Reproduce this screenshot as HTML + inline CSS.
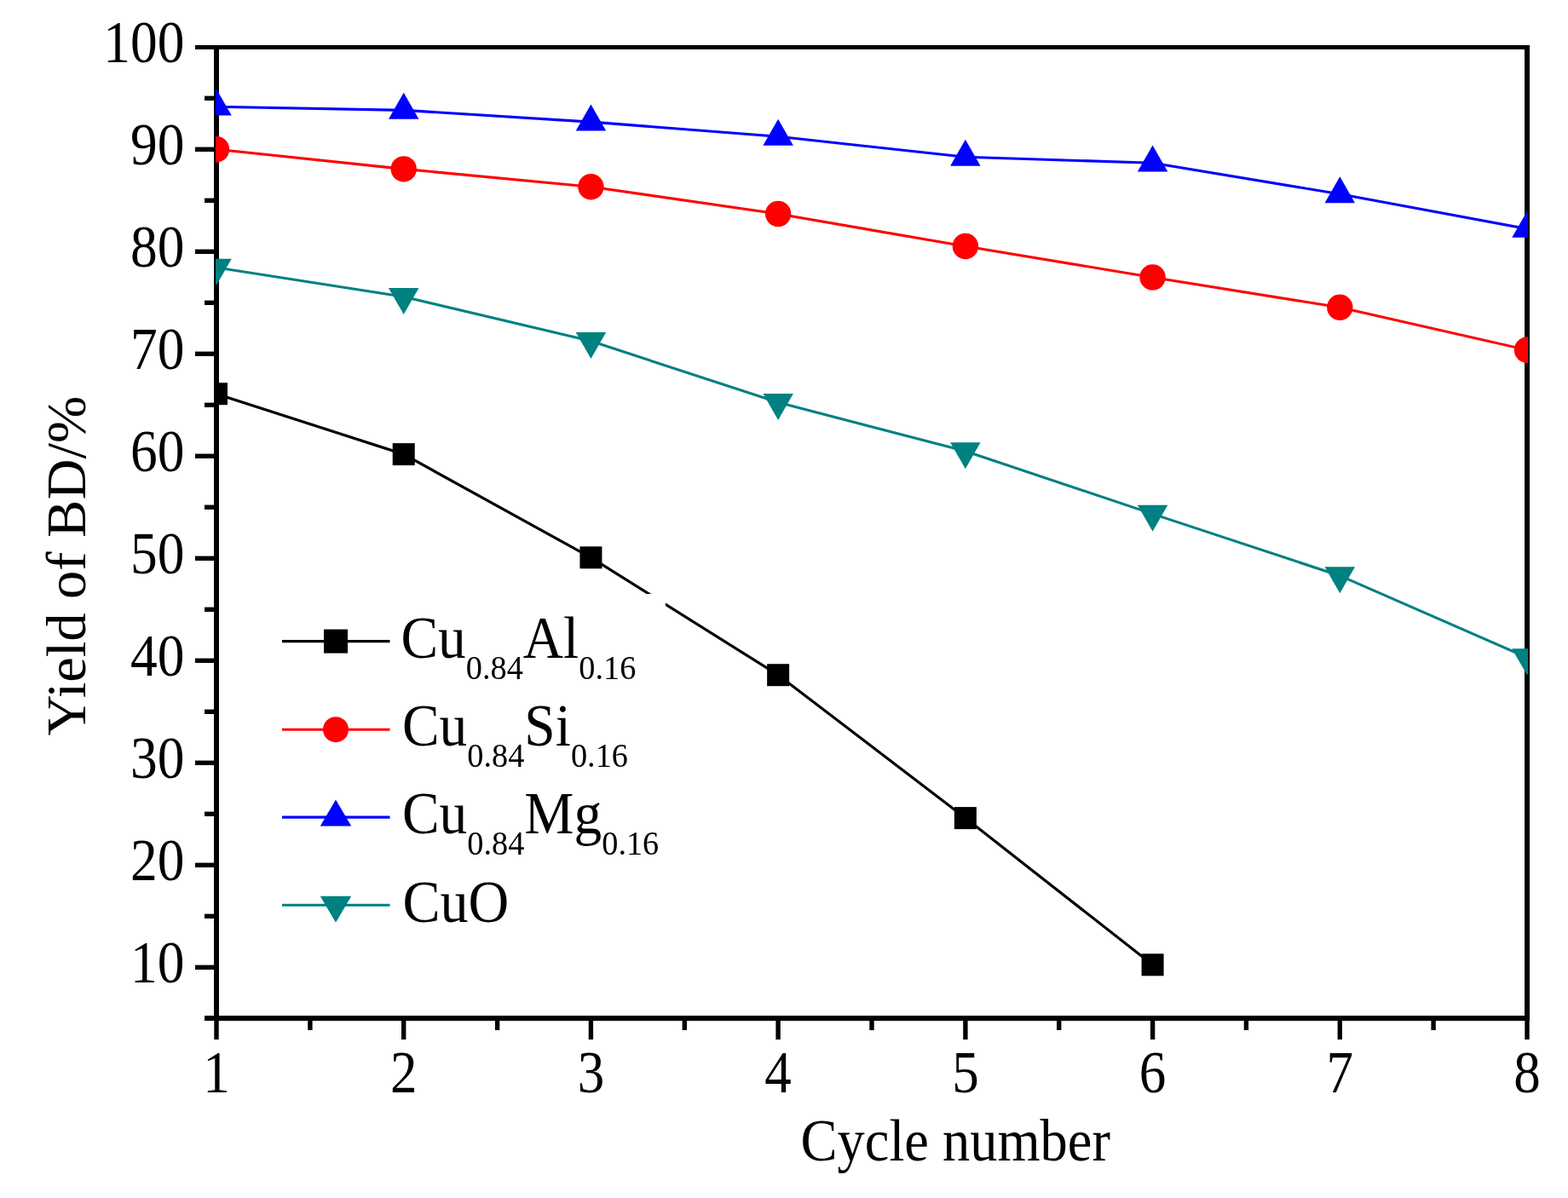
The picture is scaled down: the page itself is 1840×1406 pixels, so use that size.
<!DOCTYPE html>
<html><head><meta charset="utf-8"><title>Yield of BD vs Cycle number</title>
<style>
html,body{margin:0;padding:0;background:#fff;}
body{width:1840px;height:1406px;overflow:hidden;}
svg{display:block;}
text{font-family:"Liberation Serif","Times New Roman",serif;fill:#000;}
</style></head><body>
<svg width="1840" height="1406" viewBox="0 0 1840 1406">
<rect width="1840" height="1406" fill="#fff"/>
<defs><clipPath id="pc"><rect x="253" y="53" width="1540" height="1145"/></clipPath></defs>

<g fill="#000">
<rect x="251" y="53" width="6" height="1145"/>
<rect x="1789" y="53" width="6" height="1145"/>
<rect x="229" y="53" width="1566" height="5"/>
<rect x="240" y="1192" width="1555" height="6"/>
</g>
<g stroke="#000" stroke-width="5.4" stroke-linecap="butt">
<line x1="229" y1="1135.3" x2="254" y2="1135.3"/>
<line x1="229" y1="1015.3" x2="254" y2="1015.3"/>
<line x1="229" y1="895.3" x2="254" y2="895.3"/>
<line x1="229" y1="775.3" x2="254" y2="775.3"/>
<line x1="229" y1="655.3" x2="254" y2="655.3"/>
<line x1="229" y1="535.3" x2="254" y2="535.3"/>
<line x1="229" y1="415.3" x2="254" y2="415.3"/>
<line x1="229" y1="295.3" x2="254" y2="295.3"/>
<line x1="229" y1="175.3" x2="254" y2="175.3"/>
<line x1="240" y1="1195.3" x2="254" y2="1195.3"/>
<line x1="240" y1="1075.3" x2="254" y2="1075.3"/>
<line x1="240" y1="955.3" x2="254" y2="955.3"/>
<line x1="240" y1="835.3" x2="254" y2="835.3"/>
<line x1="240" y1="715.3" x2="254" y2="715.3"/>
<line x1="240" y1="595.3" x2="254" y2="595.3"/>
<line x1="240" y1="475.3" x2="254" y2="475.3"/>
<line x1="240" y1="355.3" x2="254" y2="355.3"/>
<line x1="240" y1="235.3" x2="254" y2="235.3"/>
<line x1="240" y1="115.3" x2="254" y2="115.3"/>
<line x1="254.0" y1="1195" x2="254.0" y2="1220"/>
<line x1="473.7" y1="1195" x2="473.7" y2="1220"/>
<line x1="693.4" y1="1195" x2="693.4" y2="1220"/>
<line x1="913.1" y1="1195" x2="913.1" y2="1220"/>
<line x1="1132.9" y1="1195" x2="1132.9" y2="1220"/>
<line x1="1352.6" y1="1195" x2="1352.6" y2="1220"/>
<line x1="1572.3" y1="1195" x2="1572.3" y2="1220"/>
<line x1="1792.0" y1="1195" x2="1792.0" y2="1220"/>
<line x1="363.9" y1="1195" x2="363.9" y2="1209"/>
<line x1="583.6" y1="1195" x2="583.6" y2="1209"/>
<line x1="803.3" y1="1195" x2="803.3" y2="1209"/>
<line x1="1023.0" y1="1195" x2="1023.0" y2="1209"/>
<line x1="1242.7" y1="1195" x2="1242.7" y2="1209"/>
<line x1="1462.4" y1="1195" x2="1462.4" y2="1209"/>
<line x1="1682.1" y1="1195" x2="1682.1" y2="1209"/>
</g>
<g clip-path="url(#pc)">
<polyline points="254.00,462.22 473.71,533.14 693.43,654.34 913.14,792.22 1132.86,960.10 1352.57,1132.30" fill="none" stroke="#000" stroke-width="3.2" stroke-linejoin="round"/><rect x="241.00" y="449.22" width="26" height="26" fill="#000"/><rect x="460.71" y="520.14" width="26" height="26" fill="#000"/><rect x="680.43" y="641.34" width="26" height="26" fill="#000"/><rect x="900.14" y="779.22" width="26" height="26" fill="#000"/><rect x="1119.86" y="947.10" width="26" height="26" fill="#000"/><rect x="1339.57" y="1119.30" width="26" height="26" fill="#000"/>
<polyline points="254.00,175.30 473.71,198.34 693.43,219.22 913.14,251.02 1132.86,289.06 1352.57,325.42 1572.29,360.82 1792.00,410.74" fill="none" stroke="#ff0000" stroke-width="3.1" stroke-linejoin="round"/><circle cx="254.00" cy="175.30" r="15.2" fill="#ff0000"/><circle cx="473.71" cy="198.34" r="15.2" fill="#ff0000"/><circle cx="693.43" cy="219.22" r="15.2" fill="#ff0000"/><circle cx="913.14" cy="251.02" r="15.2" fill="#ff0000"/><circle cx="1132.86" cy="289.06" r="15.2" fill="#ff0000"/><circle cx="1352.57" cy="325.42" r="15.2" fill="#ff0000"/><circle cx="1572.29" cy="360.82" r="15.2" fill="#ff0000"/><circle cx="1792.00" cy="410.74" r="15.2" fill="#ff0000"/>
<polyline points="254.00,125.26 473.71,129.34 693.43,143.14 913.14,160.30 1132.86,184.30 1352.57,191.26 1572.29,227.80 1792.00,268.54" fill="none" stroke="#0000ff" stroke-width="3.1" stroke-linejoin="round"/><polygon points="254.00,104.59 271.75,135.59 236.25,135.59" fill="#0000ff"/><polygon points="473.71,108.67 491.46,139.67 455.96,139.67" fill="#0000ff"/><polygon points="693.43,122.47 711.18,153.47 675.68,153.47" fill="#0000ff"/><polygon points="913.14,139.63 930.89,170.63 895.39,170.63" fill="#0000ff"/><polygon points="1132.86,163.63 1150.61,194.63 1115.11,194.63" fill="#0000ff"/><polygon points="1352.57,170.59 1370.32,201.59 1334.82,201.59" fill="#0000ff"/><polygon points="1572.29,207.13 1590.04,238.13 1554.54,238.13" fill="#0000ff"/><polygon points="1792.00,247.87 1809.75,278.87 1774.25,278.87" fill="#0000ff"/>
<polyline points="254.00,314.02 473.71,348.34 693.43,400.30 913.14,472.30 1132.86,529.54 1352.57,603.10 1572.29,675.70 1792.00,771.70" fill="none" stroke="#008080" stroke-width="3.1" stroke-linejoin="round"/><polygon points="254.00,334.69 271.75,303.69 236.25,303.69" fill="#008080"/><polygon points="473.71,369.01 491.46,338.01 455.96,338.01" fill="#008080"/><polygon points="693.43,420.97 711.18,389.97 675.68,389.97" fill="#008080"/><polygon points="913.14,492.97 930.89,461.97 895.39,461.97" fill="#008080"/><polygon points="1132.86,550.21 1150.61,519.21 1115.11,519.21" fill="#008080"/><polygon points="1352.57,623.77 1370.32,592.77 1334.82,592.77" fill="#008080"/><polygon points="1572.29,696.37 1590.04,665.37 1554.54,665.37" fill="#008080"/><polygon points="1792.00,792.37 1809.75,761.37 1774.25,761.37" fill="#008080"/>
</g>
<rect x="318" y="697" width="463" height="400" fill="#fff"/>
<line x1="331" y1="752.6" x2="457.5" y2="752.6" stroke="#000" stroke-width="3.2"/>
<rect x="380.00" y="738.60" width="28" height="28" fill="#000"/>
<text transform="translate(470.5,772.4) scale(0.9481,1)" font-size="69.0">Cu<tspan font-size="40.4" dy="25">0.84</tspan><tspan dy="-25">Al</tspan><tspan font-size="40.4" dy="25">0.16</tspan></text>
<line x1="331" y1="856.2" x2="457.5" y2="856.2" stroke="#ff0000" stroke-width="3.1"/>
<circle cx="394.00" cy="856.20" r="15.0" fill="#ff0000"/>
<text transform="translate(472.0,875.3) scale(0.9481,1)" font-size="69.0">Cu<tspan font-size="40.4" dy="25">0.84</tspan><tspan dy="-25">Si</tspan><tspan font-size="40.4" dy="25">0.16</tspan></text>
<line x1="331" y1="959.1" x2="457.5" y2="959.1" stroke="#0000ff" stroke-width="3.1"/>
<polygon points="394.00,938.43 412.25,969.43 375.75,969.43" fill="#0000ff"/>
<text transform="translate(472.0,977.6) scale(0.9481,1)" font-size="69.0">Cu<tspan font-size="40.4" dy="25">0.84</tspan><tspan dy="-25">Mg</tspan><tspan font-size="40.4" dy="25">0.16</tspan></text>
<line x1="331" y1="1062.2" x2="457.5" y2="1062.2" stroke="#008080" stroke-width="3.1"/>
<polygon points="394.00,1082.87 412.25,1051.87 375.75,1051.87" fill="#008080"/>
<text transform="translate(472.5,1081.6) scale(0.9580,1)" font-size="69.0">CuO</text>
<text transform="translate(216.4,1153.1) scale(0.9183,1)" font-size="69.0" text-anchor="end">10</text>
<text transform="translate(216.4,1033.1) scale(0.9183,1)" font-size="69.0" text-anchor="end">20</text>
<text transform="translate(216.4,913.1) scale(0.9183,1)" font-size="69.0" text-anchor="end">30</text>
<text transform="translate(216.4,793.1) scale(0.9183,1)" font-size="69.0" text-anchor="end">40</text>
<text transform="translate(216.4,673.1) scale(0.9183,1)" font-size="69.0" text-anchor="end">50</text>
<text transform="translate(216.4,553.1) scale(0.9183,1)" font-size="69.0" text-anchor="end">60</text>
<text transform="translate(216.4,433.1) scale(0.9183,1)" font-size="69.0" text-anchor="end">70</text>
<text transform="translate(216.4,313.1) scale(0.9183,1)" font-size="69.0" text-anchor="end">80</text>
<text transform="translate(216.4,193.1) scale(0.9183,1)" font-size="69.0" text-anchor="end">90</text>
<text transform="translate(216.4,73.1) scale(0.9183,1)" font-size="69.0" text-anchor="end">100</text>
<text transform="translate(254.0,1282.2) scale(0.9133,1)" font-size="69.0" text-anchor="middle">1</text>
<text transform="translate(473.7,1282.2) scale(0.9133,1)" font-size="69.0" text-anchor="middle">2</text>
<text transform="translate(693.4,1282.2) scale(0.9133,1)" font-size="69.0" text-anchor="middle">3</text>
<text transform="translate(913.1,1282.2) scale(0.9133,1)" font-size="69.0" text-anchor="middle">4</text>
<text transform="translate(1132.9,1282.2) scale(0.9133,1)" font-size="69.0" text-anchor="middle">5</text>
<text transform="translate(1352.6,1282.2) scale(0.9133,1)" font-size="69.0" text-anchor="middle">6</text>
<text transform="translate(1572.3,1282.2) scale(0.9133,1)" font-size="69.0" text-anchor="middle">7</text>
<text transform="translate(1792.0,1282.2) scale(0.9133,1)" font-size="69.0" text-anchor="middle">8</text>
<text transform="translate(939.6,1362.2) scale(0.9342,1)" font-size="69.0">Cycle number</text>
<text transform="translate(100.1,863.6) rotate(-90)" font-size="66.5">Yield of BD/%</text>
</svg></body></html>
